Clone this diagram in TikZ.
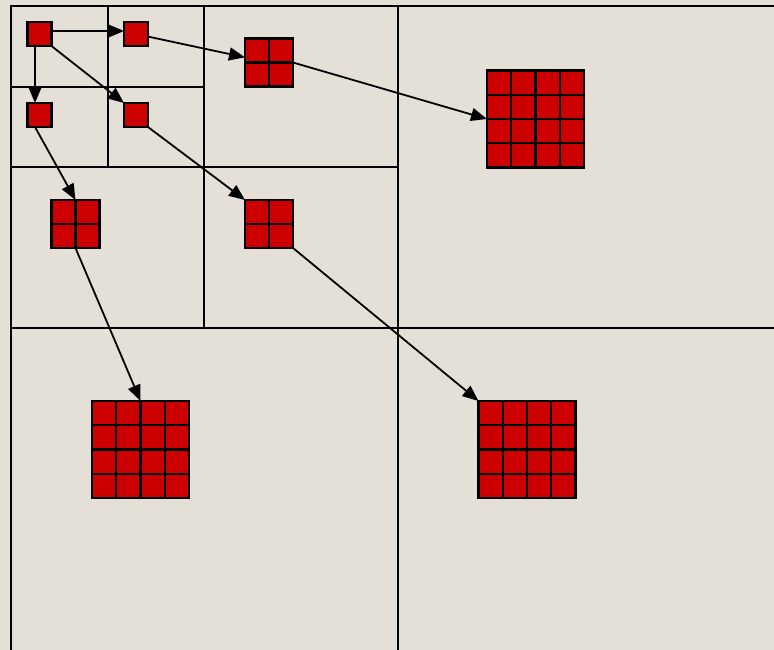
\documentclass[tikz,border=0pt]{standalone}
\usetikzlibrary{arrows.meta,calc}
\definecolor{parch}{RGB}{228,224,215}
\definecolor{cellred}{RGB}{204,0,0}
\tikzset{
  gridline/.style={line width=2.5pt,black},
  cell/.style={draw=black,line width=2.2pt,fill=cellred,inner sep=0pt,outer sep=0pt,minimum size=#1},
  conn/.style={line width=1.8pt,-{Triangle[length=16pt,width=13pt]}}
}
\begin{document}
\begin{tikzpicture}[x=1pt,y=-1pt]
\useasboundingbox (0,0) rectangle (774,650);
\fill[parch] (0,0) rectangle (774,650);
\begin{scope}
\clip (0,0) rectangle (774,650);
% grid lines
\draw[gridline] (11,6) -- (780,6);
\draw[gridline] (11,5) -- (11,660);
\draw[gridline] (108,6) -- (108,167);
\draw[gridline] (204,6) -- (204,328);
\draw[gridline] (398,6) -- (398,660);
\draw[gridline] (11,87) -- (204,87);
\draw[gridline] (11,167) -- (398,167);
\draw[gridline] (11,328) -- (780,328);
\end{scope}
% cells
\node[cell=24pt] (s1) at (39.5,34) {};
\node[cell=24pt] (s2) at (136,34) {};
\node[cell=24pt] (s3) at (39.5,115) {};
\node[cell=24pt] (s4) at (136,115) {};
\node[cell=48pt] (A) at (269,62.5) {};
\node[cell=48pt] (B) at (75.5,224) {};
\node[cell=48pt] (C) at (269,224) {};
\node[cell=97pt] (TR) at (535.5,119) {};
\node[cell=97pt] (BL) at (140.5,449.5) {};
\node[cell=97pt] (BR) at (527,449.5) {};
% inner grid lines of blocks
\foreach \n/\fr in {A/{0.5},B/{0.5},C/{0.5},TR/{0.25,0.5,0.75},BL/{0.25,0.5,0.75},BR/{0.25,0.5,0.75}}{
  \foreach \f in \fr {
    \draw[line width=2.2pt] ($(\n.north west)!\f!(\n.north east)$) -- ($(\n.south west)!\f!(\n.south east)$);
    \draw[line width=2.2pt] ($(\n.north west)!\f!(\n.south west)$) -- ($(\n.north east)!\f!(\n.south east)$);
  }
}
% connectors
\draw[conn] ([yshift=3pt]s1.east) -- ([yshift=3pt]s2.west);
\draw[conn] ([xshift=-4.5pt]s1.south) -- ([xshift=-4.5pt]s3.north);
\draw[conn] (s1.south east) -- (s4.north west);
\draw[conn] (s2) -- (A);
\draw[conn] (A.east) -- (TR.west);
\draw[conn] (s4.south east) -- (C.north west);
\draw[conn] ([xshift=-4.5pt]s3.south) -- (B.north);
\draw[conn] (B.south) -- (BL.north);
\draw[conn] (C.south east) -- (BR.north west);
\end{tikzpicture}
\end{document}
